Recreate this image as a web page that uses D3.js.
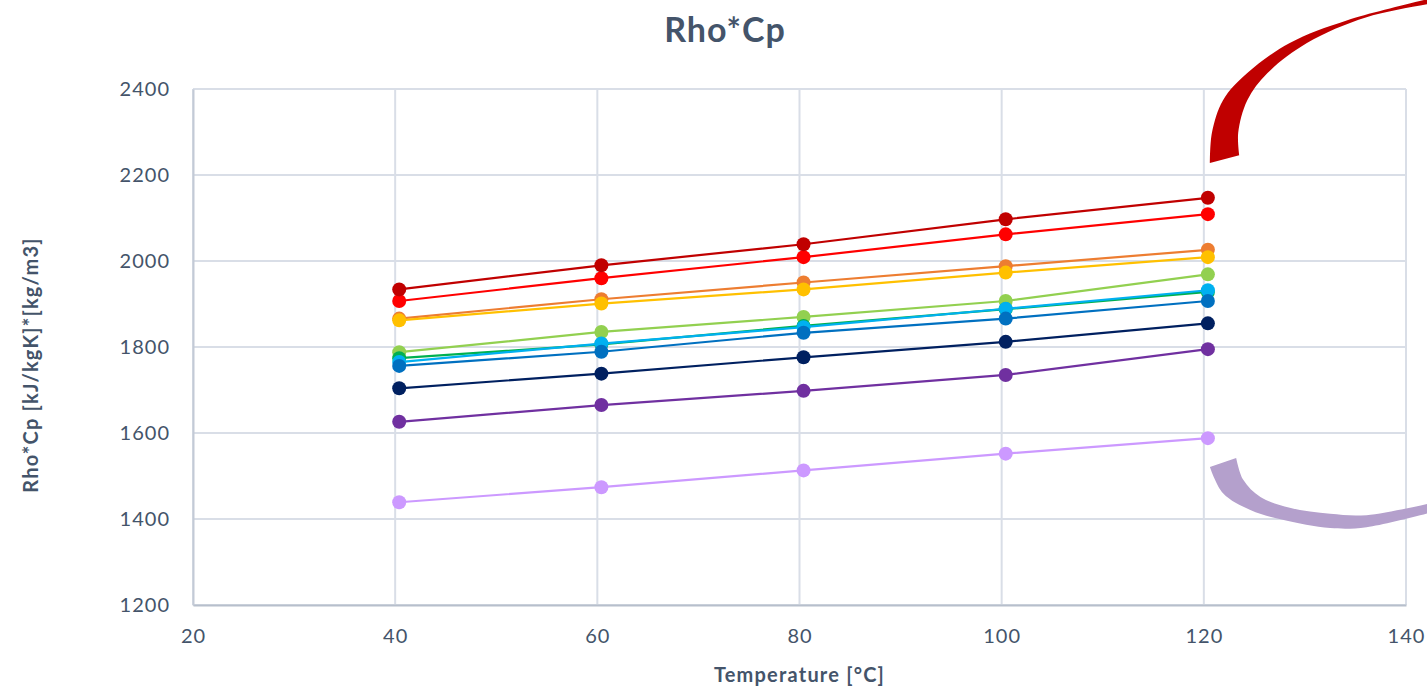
<!DOCTYPE html>
<html>
<head>
<meta charset="utf-8">
<script src="https://cdn.jsdelivr.net/npm/d3@7"></script>
<style>
  html, body { margin: 0; padding: 0; background: #fff; }
  text { font-family: Lato, "Open Sans", sans-serif; }
</style>
</head>
<body>
<div id="chart"></div>
<script>
// temperatures (x) of the measured points
const temperatures = [40.4, 60.4, 80.4, 100.4, 120.4];

// Rho*Cp values per fluid
const darkRed = [1934, 1990, 2039, 2097, 2147];
const red = [1907, 1960, 2009, 2062, 2109];
const orange = [1866, 1911, 1950, 1988, 2026];
const yellow = [1862, 1901, 1934, 1973, 2009];
const lightGreen = [1788, 1835, 1870, 1907, 1969];
const green = [1774, 1806, 1849, 1888, 1928];
const cyan = [1765, 1808, 1846, 1889, 1932];
const blue = [1756, 1789, 1833, 1866, 1907];
const navy = [1704, 1738, 1776, 1812, 1855];
const purple = [1626, 1665, 1698, 1735, 1795];
const lavender = [1439, 1474, 1513, 1552, 1588];

const xTicks = [20, 40, 60, 80, 100, 120, 140];
const yTicks = [1200, 1400, 1600, 1800, 2000, 2200, 2400];

const series = [
  { values: lavender, color: "#CC99FF" },
  { values: purple, color: "#7030A0" },
  { values: navy, color: "#002060" },
  { values: lightGreen, color: "#92D050" },
  { values: green, color: "#00B050" },
  { values: cyan, color: "#00B0F0" },
  { values: blue, color: "#0070C0" },
  { values: orange, color: "#ED7D31" },
  { values: yellow, color: "#FFC000" },
  { values: red, color: "#FF0000" },
  { values: darkRed, color: "#C00000" },
];

// annotation arrows, given in data space (temperature, rho*cp)
// outer edge runs from the blunt end outwards, inner edge runs back
const redArrowOuter = [[120.6, 2228], [120.8, 2298], [121.9, 2374], [124.3, 2437], [128.5, 2507], [134.2, 2560], [143.4, 2616]];
const redArrowInner = [[143.4, 2602], [136.1, 2567], [130.2, 2507], [126.3, 2437], [124.3, 2374], [123.4, 2298], [123.5, 2246]];
const purpleArrowOuter = [[120.6, 1521], [121.9, 1460], [124.6, 1421], [127.8, 1398], [132.5, 1379], [136.1, 1381], [143.4, 1421]];
const purpleArrowInner = [[143.4, 1442], [136.1, 1409], [132.5, 1412], [128.5, 1426], [125.6, 1451], [123.9, 1491], [123.2, 1542]];

const width = 1427;
const height = 688;
const margin = { top: 89, right: 21, bottom: 83, left: 193 };
const textColor = "#44546A";
const gridColor = "#D9DEE7";

const svg = d3
  .select("#chart")
  .append("svg")
  .attr("width", width)
  .attr("height", height);

const x = d3
  .scaleLinear()
  .domain([20, 140])
  .range([margin.left, width - margin.right]);

const y = d3
  .scaleLinear()
  .domain([1200, 2400])
  .range([height - margin.bottom, margin.top]);

// grid
svg
  .append("g")
  .selectAll("line")
  .data(xTicks)
  .join("line")
  .attr("x1", (d) => x(d))
  .attr("x2", (d) => x(d))
  .attr("y1", y(1200))
  .attr("y2", y(2400))
  .attr("stroke", gridColor)
  .attr("stroke-width", 2);

svg
  .append("g")
  .selectAll("line")
  .data(yTicks)
  .join("line")
  .attr("x1", x(20))
  .attr("x2", x(140))
  .attr("y1", (d) => y(d))
  .attr("y2", (d) => y(d))
  .attr("stroke", gridColor)
  .attr("stroke-width", 2);

// axes
const xAxis = svg
  .append("g")
  .attr("transform", `translate(0,${y(1200)})`)
  .call(
    d3.axisBottom(x).tickValues(xTicks).tickFormat(d3.format("d")).tickSize(0).tickPadding(24),
  );

const yAxis = svg
  .append("g")
  .attr("transform", `translate(${x(20)},0)`)
  .call(
    d3.axisLeft(y).tickValues(yTicks).tickFormat(d3.format("d")).tickSize(0).tickPadding(23),
  );

xAxis.select(".domain").attr("stroke", "#B7BFCC").attr("stroke-width", 2);
yAxis.select(".domain").attr("stroke", "#C3CAD6").attr("stroke-width", 2);

svg
  .selectAll(".tick text")
  .attr("fill", textColor)
  .style("font-size", "20px")
  .style("letter-spacing", "1px")
  .style("font-family", "Lato, 'Open Sans', sans-serif");

// series lines and markers
const line = d3
  .line()
  .x((d, i) => x(temperatures[i]))
  .y((d) => y(d));

const groups = svg.append("g").selectAll("g").data(series).join("g");

groups
  .append("path")
  .attr("d", (d) => line(d.values))
  .attr("fill", "none")
  .attr("stroke", (d) => d.color)
  .attr("stroke-width", 2.2);

groups
  .selectAll("circle")
  .data((d) => d.values.map((v, i) => ({ v, i, color: d.color })))
  .join("circle")
  .attr("cx", (d) => x(temperatures[d.i]))
  .attr("cy", (d) => y(d.v))
  .attr("r", 7)
  .attr("fill", (d) => d.color);

// annotation arrows
const band = (outer, inner) => {
  const curve = d3
    .line()
    .x((d) => x(d[0]))
    .y((d) => y(d[1]))
    .curve(d3.curveCatmullRom);
  return curve(outer) + "L" + curve(inner).slice(1) + "Z";
};

svg
  .append("path")
  .attr("d", band(redArrowOuter, redArrowInner))
  .attr("fill", "#C00000");

svg
  .append("path")
  .attr("d", band(purpleArrowOuter, purpleArrowInner))
  .attr("fill", "#B4A0CC");

// titles
svg
  .append("text")
  .attr("x", 725)
  .attr("y", 42)
  .attr("text-anchor", "middle")
  .attr("fill", textColor)
  .style("font-size", "34px")
  .style("letter-spacing", "1px")
  .style("font-weight", "bold")
  .text("Rho*Cp");

svg
  .append("text")
  .attr("x", (x(20) + x(140)) / 2)
  .attr("y", 682)
  .attr("text-anchor", "middle")
  .attr("fill", textColor)
  .style("font-size", "20px")
  .style("letter-spacing", "1.2px")
  .style("font-weight", "bold")
  .text("Temperature [°C]");

svg
  .append("text")
  .attr("transform", "translate(38,365) rotate(-90)")
  .attr("text-anchor", "middle")
  .attr("fill", textColor)
  .style("font-size", "20px")
  .style("letter-spacing", "1.2px")
  .style("font-weight", "bold")
  .text("Rho*Cp [kJ/kgK]*[kg/m3]");
</script>
</body>
</html>
